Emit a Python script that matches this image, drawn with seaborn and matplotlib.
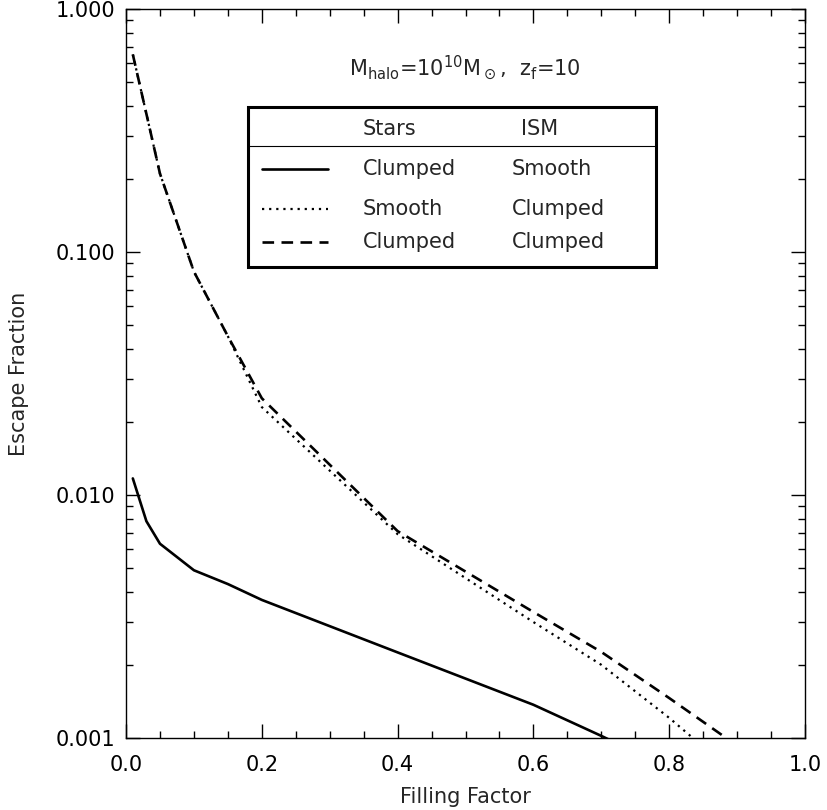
import numpy as np
import pandas as pd
import matplotlib
matplotlib.use('Agg')
import matplotlib.pyplot as plt
import seaborn as sns
from matplotlib.ticker import FixedLocator, MultipleLocator, FormatStrFormatter, LogLocator, NullFormatter
from matplotlib.patches import Rectangle

# datos
factor = [0.01, 0.03, 0.05, 0.1, 0.15, 0.2, 0.4, 0.6, 0.7, 0.8, 0.9]
esc_clumped_smooth = [0.0117, 0.0078, 0.0063, 0.0049, 0.0043, 0.0037, 0.00225, 0.00137, 0.00102, 0.00075, 0.00055]
esc_smooth_clumped = [0.65, 0.37, 0.21, 0.083, 0.045, 0.023, 0.0069, 0.0030, 0.0020, 0.00121, 0.0007]
esc_clumped_clumped = [0.65, 0.37, 0.21, 0.083, 0.045, 0.025, 0.0071, 0.0033, 0.00226, 0.00146, 0.00093]

sns.set_style('ticks')
plt.rcParams['font.family'] = ['DejaVu Sans']
plt.rcParams['mathtext.fontset'] = 'dejavusans'

fs = 15
fig = plt.figure(figsize=(8.27, 8.10), dpi=100)
ax = fig.add_axes([0.1524, 0.0889, 0.821, 0.9])

sns.lineplot(x=factor, y=esc_clumped_smooth, ax=ax, color='black', lw=1.9, linestyle='-')
sns.lineplot(x=factor, y=esc_smooth_clumped, ax=ax, color='black', lw=1.6, linestyle=(0, (1, 2.2)))
sns.lineplot(x=factor, y=esc_clumped_clumped, ax=ax, color='black', lw=1.9, linestyle=(0, (4.4, 2.8)))

ax.set_yscale('log')
ax.set_xlim(0, 1)
ax.set_ylim(0.001, 1.0)

ax.xaxis.set_major_locator(MultipleLocator(0.2))
ax.xaxis.set_minor_locator(MultipleLocator(0.05))
ax.xaxis.set_major_formatter(FormatStrFormatter('%.1f'))
ax.yaxis.set_major_locator(FixedLocator([0.001, 0.01, 0.1, 1.0]))
ax.yaxis.set_major_formatter(FormatStrFormatter('%.3f'))
ax.yaxis.set_minor_locator(LogLocator(base=10, subs=np.arange(2, 10)))
ax.yaxis.set_minor_formatter(NullFormatter())

ax.tick_params(which='both', direction='in', top=True, right=True, width=1, colors='black', labelsize=fs)
ax.tick_params(which='major', length=10)
ax.tick_params(axis='x', which='major', pad=12)
ax.tick_params(axis='y', which='major', pad=8)
ax.tick_params(which='minor', length=5)
for s in ax.spines.values():
    s.set_linewidth(1)
    s.set_color('black')

ax.set_xlabel('Filling Factor', fontsize=fs, labelpad=9)
ax.set_ylabel('Escape Fraction', fontsize=fs, labelpad=19)

ax.text(0.499, 0.919, r'M$_{\rm halo}$=10$^{10}$M$_\odot$,  z$_{\rm f}$=10',
        transform=ax.transAxes, ha='center', va='center', fontsize=fs)

# leyenda dibujada a mano (caja con encabezado)
x0, x1, y0, y1 = 0.1797, 0.7806, 0.6461, 0.8656
ax.add_patch(Rectangle((x0, y0), x1 - x0, y1 - y0, transform=ax.transAxes,
                       fill=False, lw=2.2, ec='black', zorder=5))
ax.plot([x0, x1], [0.8121, 0.8121], transform=ax.transAxes, color='black', lw=0.8)
ax.text(0.349, 0.836, 'Stars', transform=ax.transAxes, ha='left', va='center', fontsize=fs)
ax.text(0.582, 0.836, 'ISM', transform=ax.transAxes, ha='left', va='center', fontsize=fs)

filas = [('Clumped', 'Smooth', '-', 1.9, 0.7805),
         ('Smooth', 'Clumped', (0, (1, 2.2)), 1.6, 0.7257),
         ('Clumped', 'Clumped', (0, (4.4, 2.8)), 1.9, 0.6804)]
for estrellas, ism, ls, lw, yy in filas:
    ax.plot([0.2003, 0.2975], [yy, yy], transform=ax.transAxes, color='black', lw=lw, linestyle=ls)
    ax.text(0.349, yy, estrellas, transform=ax.transAxes, ha='left', va='center', fontsize=fs)
    ax.text(0.5685, yy, ism, transform=ax.transAxes, ha='left', va='center', fontsize=fs)

fig.savefig('out.png', dpi=100)
